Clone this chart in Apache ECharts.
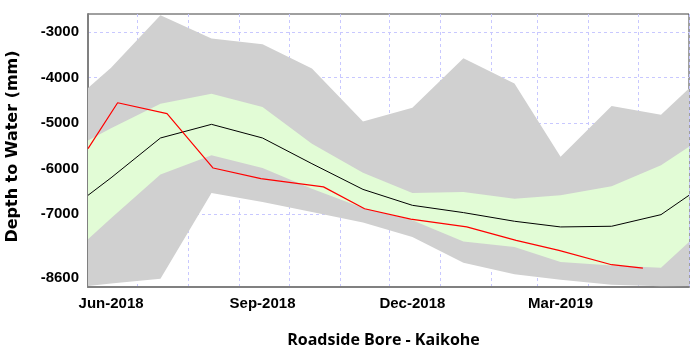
<!DOCTYPE html>
<html><head><meta charset="utf-8">
<script src="https://cdn.jsdelivr.net/npm/echarts@6/dist/echarts.min.js"></script>
<style>html,body{margin:0;padding:0;background:#fff}#c{width:700px;height:351px}</style>
</head><body><div id="c"></div>
<script>
// Long-term statistics (15th of each month, plus values at the axis edges)
const statDates = ['2018-06-01','2018-06-15','2018-07-15','2018-08-15','2018-09-15','2018-10-15','2018-11-15','2018-12-15','2019-01-15','2019-02-15','2019-03-15','2019-04-15','2019-05-15','2019-06-01'];
const maxVals   = [-4226,-3780,-2630,-3140,-3265,-3800,-4960,-4660,-3570,-4130,-5740,-4620,-4815,-4240];
const minVals   = [-8580,-8525,-8420,-6535,-6730,-6950,-7185,-7500,-8065,-8320,-8440,-8550,-8585,-8580];
const upperVals = [-5380,-5110,-4570,-4350,-4645,-5450,-6090,-6535,-6510,-6660,-6585,-6385,-5925,-5520];
const lowerVals = [-7550,-7090,-6130,-5705,-5985,-6440,-6865,-7135,-7600,-7720,-8050,-8125,-8175,-7610];
const medianVals= [-6585,-6200,-5325,-5025,-5325,-5890,-6455,-6805,-6965,-7155,-7280,-7265,-7010,-6585];
// Current year readings
const redDates = ['2018-06-01','2018-06-19','2018-07-19','2018-08-16','2018-09-14','2018-10-22','2018-11-16','2018-12-14','2019-01-17','2019-02-16','2019-03-14','2019-04-15','2019-05-04'];
const redVals  = [-5560,-4550,-4790,-5985,-6220,-6400,-6880,-7110,-7280,-7575,-7795,-8110,-8185];
// Axis
const xMin = '2018-06-01', xMax = '2019-06-01';
const monthStarts = ['2018-06-01','2018-07-01','2018-08-01','2018-09-01','2018-10-01','2018-11-01','2018-12-01','2019-01-01','2019-02-01','2019-03-01','2019-04-01','2019-05-01','2019-06-01'];
const xLabelDates = ['2018-06-15','2018-09-15','2018-12-15','2019-03-15'];
const xLabelTexts = ['Jun-2018','Sep-2018','Dec-2018','Mar-2019'];
const yTicks = [-8600,-7000,-6000,-5000,-4000,-3000];
const yMin = -8600, yMax = -2600;

const ts = d => Date.parse(d);
const pairs = (ds, vs) => ds.map((d,i)=>[ts(d), vs[i]]);
const labelTs = xLabelDates.map(ts);

const tickFont = "'Liberation Sans Narrow','Arial Narrow','Liberation Sans',Arial,sans-serif";

// band polygon between two value arrays, projected through the chart's axes
function band(name, lo, hi, color) {
  return {
    type:'custom', name:name, silent:true, clip:true,
    data: statDates.map((d,i)=>[ts(d), lo[i], hi[i]]),
    encode:{x:0, y:[1,2]},
    renderItem:(params, api)=>{
      if (params.dataIndex !== 0) return null;
      const top = statDates.map((d,i)=>api.coord([ts(d), hi[i]]));
      const bot = statDates.map((d,i)=>api.coord([ts(d), lo[i]])).reverse();
      return {type:'polygon', shape:{points: top.concat(bot)}, style:{fill:color, stroke:null}};
    }
  };
}

const chart = echarts.init(document.getElementById('c'), null, {renderer:'canvas'});
chart.setOption({
  backgroundColor:'#ffffff',
  animation:false,
  grid:{left:88, right:11, top:14, bottom:64, show:true, borderColor:'#404040', borderWidth:1, backgroundColor:'#ffffff', outerBoundsMode:'none'},
  xAxis:{
    type:'value', min:ts(xMin), max:ts(xMax),
    name:'Roadside Bore - Kaikohe', nameLocation:'middle', nameGap:45,
    nameTextStyle:{fontFamily:"'Open Sans',sans-serif", fontWeight:'bold', fontSize:16, color:'#000', padding:[0,10,0,0]},
    axisLine:{show:true, onZero:false, lineStyle:{color:'#808080', width:2}},
    axisTick:{show:false, customValues: monthStarts.map(ts)},
    splitLine:{show:true, lineStyle:{color:'#c8c8ff', type:[3,3], width:1}},
    axisLabel:{customValues: labelTs, margin:9,
      formatter:(v)=>{ const i = labelTs.indexOf(v); return i>=0 ? xLabelTexts[i] : ''; },
      fontFamily:tickFont, fontWeight:'bold', fontSize:15, color:'#000'}
  },
  yAxis:{
    type:'value', min:yMin, max:yMax,
    name:'Depth to Water (mm)', nameLocation:'middle', nameGap:67,
    nameTextStyle:{fontFamily:"'DejaVu Sans',sans-serif", fontWeight:'bold', fontSize:16, color:'#000', padding:[0,0,0,8]},
    axisLine:{show:true, onZero:false, lineStyle:{color:'#808080', width:2}},
    axisTick:{show:false, customValues: yTicks},
    splitLine:{show:true, lineStyle:{color:'#c8c8ff', type:[3,3], width:1}},
    axisLabel:{customValues: yTicks, margin:9,
      formatter:(v)=> v===yMin ? '{low|'+v+'}' : String(v),
      rich:{low:{fontFamily:tickFont, fontWeight:'bold', fontSize:15, color:'#000', padding:[0,0,18,0]}},
      fontFamily:tickFont, fontWeight:'bold', fontSize:15, color:'#000'}
  },
  series:[
    band('range', minVals, maxVals, '#d0d0d0'),
    band('percentiles', lowerVals, upperVals, '#e2fcd6'),
    {type:'line', name:'median', data:pairs(statDates,medianVals), symbol:'none', lineStyle:{color:'#000', width:1}},
    {type:'line', name:'current', data:pairs(redDates,redVals), symbol:'none', lineStyle:{color:'#ff0000', width:1.2}}
  ]
});
</script></body></html>
